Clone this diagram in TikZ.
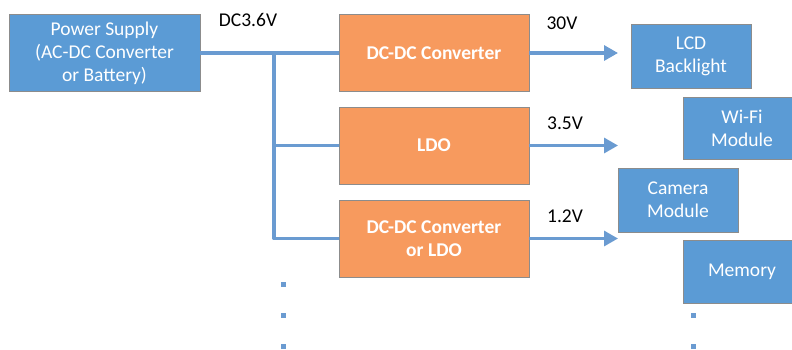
\documentclass[tikz,border=0pt]{standalone}
\usepackage{fontspec}
\setmainfont{Carlito}
\usetikzlibrary{arrows.meta}
\definecolor{boxblue}{HTML}{5B9BD5}
\definecolor{boxorange}{HTML}{F79A5E}
\definecolor{linkblue}{HTML}{6A9BD1}
\definecolor{edgegray}{HTML}{8C8C8C}
\begin{document}
\begin{tikzpicture}[x=1pt,y=-1pt,
 bbox/.style={draw=edgegray, fill=boxblue, text=white, font=\fontsize{19.5}{23}\selectfont, align=center, inner sep=0pt, line width=0.8pt},
 obox/.style={draw=edgegray, fill=boxorange, text=white, font=\bfseries\fontsize{19.5}{23.5}\selectfont, align=center, inner sep=0pt, line width=0.8pt, minimum width=190pt, minimum height=77pt},
 wire/.style={linkblue, line width=3.2pt},
 arr/.style={wire, -{Triangle[length=14pt,width=15pt]}},
 lbl/.style={font=\fontsize{19.5}{23}\selectfont, text=black},
 sq/.style={fill=linkblue, minimum size=5pt, inner sep=0pt}
]
\useasboundingbox (0,0) rectangle (792,349);
\node[bbox, minimum width=191pt, minimum height=77pt] (ps) at (104.5,53) {Power Supply\\(AC-DC Converter\\or Battery)};
\node[obox] (b1) at (434,53) {DC-DC Converter};
\node[obox] (b2) at (434,145.5) {LDO};
\node[obox] (b3) at (434,238.5) {DC-DC Converter\\or LDO};
\node[bbox, minimum width=120pt, minimum height=64pt] (lcd) at (691,56) {LCD\\Backlight};
\node[bbox, minimum width=118pt, minimum height=62pt] (wifi) at (742,128) {Wi-Fi\\Module};
\node[bbox, minimum width=120pt, minimum height=64pt] (cam) at (678,200) {Camera\\Module};
\node[bbox, minimum width=118pt, minimum height=63pt] (mem) at (742,271.5) {Memory};
\coordinate (j1) at (274,53);
\coordinate (j2) at (274,145.5);
\coordinate (j3) at (274,238.5);
\coordinate (t1) at (618,53);
\coordinate (t2) at (618,145.5);
\coordinate (t3) at (618,238.5);
\draw[wire] (ps.east) -- (b1.west);
\draw[wire, line join=round] (j1) -- (j3) -- (b3.west);
\draw[wire] (j2) -- (b2.west);
\draw[arr] (b1.east) -- (t1);
\draw[arr] (b2.east) -- (t2);
\draw[arr] (b3.east) -- (t3);
\node[lbl] (l0) at (248,20) {DC3.6V};
\node[lbl] (l1) at (562,23) {30V};
\node[lbl] (l2) at (565,123) {3.5V};
\node[lbl] (l3) at (565,216) {1.2V};
\node[sq] (d1) at (283,284) {};
\node[sq] (d2) at (283,315) {};
\node[sq] (d3) at (283,346) {};
\node[sq] (d4) at (693,315) {};
\node[sq] (d5) at (693,346) {};
\end{tikzpicture}
\end{document}
